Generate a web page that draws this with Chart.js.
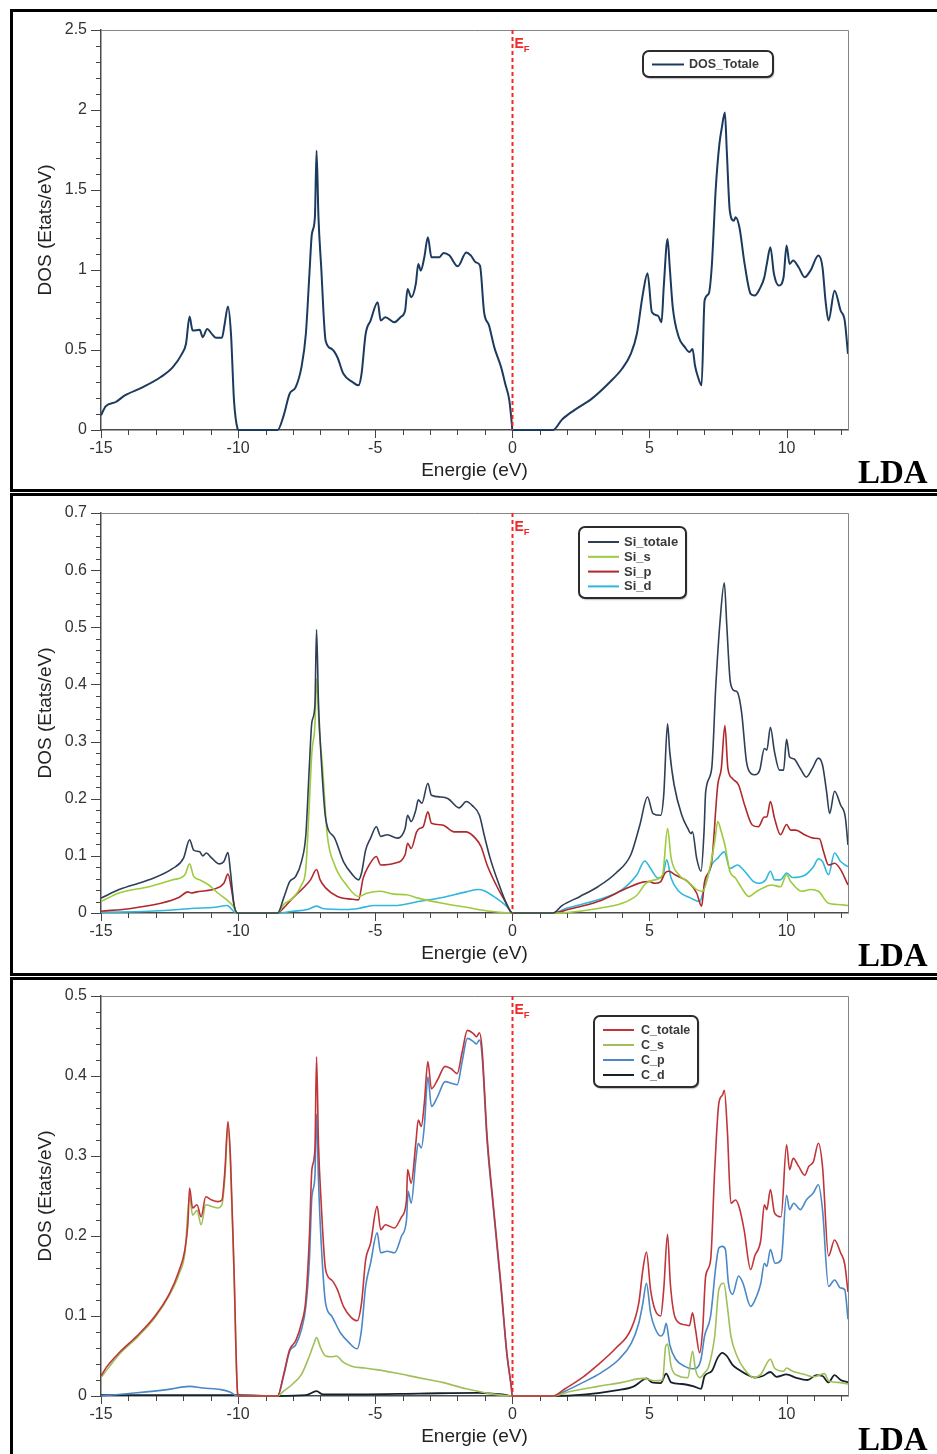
<!DOCTYPE html>
<html><head><meta charset="utf-8">
<script src="https://cdn.jsdelivr.net/npm/chart.js@4.4.1/dist/chart.umd.min.js"></script>
<style>
html,body{margin:0;padding:0;background:#fff;width:937px;height:1454px;overflow:hidden;}
.panel{position:absolute;left:10px;width:960px;height:483px;border:3px solid #000;box-sizing:border-box;}
.cv{position:absolute;left:0;}
</style></head><body>
<div class="panel" style="top:9px"></div>
<div class="panel" style="top:493px"></div>
<div class="panel" style="top:977px"></div>
<canvas id="c1" class="cv" width="937" height="490" style="top:0px"></canvas>
<canvas id="c2" class="cv" width="937" height="490" style="top:483px"></canvas>
<canvas id="c3" class="cv" width="937" height="490" style="top:966px"></canvas>
<script>
// ---------- tick labels ----------
const X_LABELS = [-15, -10, -5, 0, 5, 10];
const Y1_LABELS = [0, 0.5, 1, 1.5, 2, 2.5];
const Y2_LABELS = [0, 0.1, 0.2, 0.3, 0.4, 0.5, 0.6, 0.7];
const Y3_LABELS = [0, 0.1, 0.2, 0.3, 0.4, 0.5];

// ---------- panel 1 : DOS totale ----------
const E_DOS = [-15, -14.83, -14.46, -14.13, -13.47, -12.82, -12.38, -12.05, -11.9, -11.77, -11.66, -11.4, -11.29, -11.13, -10.96, -10.81, -10.59, -10.5, -10.37, -10.26, -10.15, -10.02, -9.98, -8.56, -8.34, -8.12, -7.9, -7.69, -7.53, -7.4, -7.31, -7.2, -7.14, -7.07, -6.97, -6.81, -6.59, -6.38, -6.16, -5.83, -5.61, -5.5, -5.35, -5.17, -4.91, -4.8, -4.63, -4.3, -4.08, -3.91, -3.82, -3.69, -3.52, -3.43, -3.34, -3.21, -3.08, -2.95, -2.66, -2.51, -2.29, -1.99, -1.68, -1.51, -1.33, -1.18, -1.03, -0.85, -0.66, -0.41, -0.26, -0.11, -0.02, 0, 1.48, 1.81, 2.25, 2.9, 3.56, 4.0, 4.32, 4.54, 4.76, 4.93, 5.09, 5.31, 5.44, 5.52, 5.66, 5.74, 5.85, 6.07, 6.29, 6.46, 6.57, 6.66, 6.77, 6.9, 7.01, 7.16, 7.27, 7.42, 7.55, 7.64, 7.75, 7.82, 7.93, 8.08, 8.14, 8.28, 8.47, 8.69, 8.84, 9.02, 9.19, 9.28, 9.41, 9.54, 9.72, 9.89, 10.0, 10.11, 10.24, 10.44, 10.66, 10.87, 11.16, 11.31, 11.42, 11.53, 11.75, 11.97, 12.12, 12.24];
const DOS_TOTALE = [0.092, 0.148, 0.175, 0.216, 0.268, 0.331, 0.393, 0.476, 0.539, 0.709, 0.622, 0.626, 0.58, 0.632, 0.601, 0.576, 0.576, 0.653, 0.772, 0.601, 0.185, 0.008, 0, 0, 0.09, 0.227, 0.268, 0.393, 0.6, 0.975, 1.225, 1.33, 1.745, 1.33, 1.017, 0.56, 0.507, 0.455, 0.351, 0.3, 0.279, 0.35, 0.6, 0.684, 0.799, 0.684, 0.705, 0.674, 0.705, 0.747, 0.882, 0.83, 0.913, 1.038, 0.996, 1.08, 1.204, 1.08, 1.08, 1.107, 1.09, 1.023, 1.11, 1.09, 1.048, 1.027, 0.736, 0.653, 0.518, 0.393, 0.289, 0.185, 0.04, 0, 0, 0.065, 0.123, 0.196, 0.3, 0.383, 0.476, 0.6, 0.851, 0.98, 0.736, 0.715, 0.674, 0.892, 1.194, 1.017, 0.767, 0.58, 0.518, 0.487, 0.507, 0.403, 0.331, 0.279, 0.809, 0.851, 1.017, 1.516, 1.787, 1.89, 1.984, 1.745, 1.37, 1.308, 1.329, 1.267, 1.038, 0.851, 0.84, 0.882, 0.955, 1.038, 1.142, 0.975, 0.903, 0.955, 1.153, 1.038, 1.059, 1.017, 0.955, 0.996, 1.09, 1.017, 0.809, 0.684, 0.871, 0.747, 0.684, 0.476];

// ---------- panel 2 : Si ----------
const E_SI_TOT = [-15, -14.34, -13.25, -12.38, -11.99, -11.77, -11.62, -11.4, -11.29, -11.16, -10.96, -10.68, -10.52, -10.37, -10.28, -10.15, -10.02, -8.56, -8.34, -8.12, -7.9, -7.69, -7.53, -7.4, -7.31, -7.2, -7.14, -7.07, -6.97, -6.81, -6.48, -6.16, -5.83, -5.61, -5.5, -5.35, -5.17, -4.96, -4.8, -4.56, -4.19, -3.91, -3.82, -3.69, -3.52, -3.43, -3.3, -3.08, -2.95, -2.6, -2.34, -1.94, -1.68, -1.46, -1.2, -1.03, -0.81, -0.48, -0.2, 0, 1.48, 1.81, 2.47, 3.12, 3.78, 4.32, 4.65, 4.93, 5.13, 5.41, 5.52, 5.66, 5.74, 5.9, 6.18, 6.4, 6.51, 6.57, 6.72, 6.88, 6.99, 7.05, 7.27, 7.42, 7.58, 7.73, 7.82, 7.95, 8.1, 8.21, 8.36, 8.54, 8.71, 8.84, 9.02, 9.19, 9.28, 9.41, 9.56, 9.74, 9.89, 10.0, 10.11, 10.26, 10.5, 10.72, 10.94, 11.16, 11.31, 11.46, 11.57, 11.75, 11.97, 12.14, 12.24];
const SI_TOTALE = [0.026, 0.041, 0.058, 0.078, 0.096, 0.128, 0.11, 0.107, 0.1, 0.105, 0.096, 0.086, 0.09, 0.106, 0.073, 0.015, 0, 0, 0.026, 0.055, 0.064, 0.09, 0.137, 0.259, 0.334, 0.363, 0.496, 0.369, 0.27, 0.166, 0.131, 0.09, 0.067, 0.058, 0.07, 0.11, 0.131, 0.151, 0.134, 0.137, 0.131, 0.148, 0.171, 0.16, 0.18, 0.198, 0.192, 0.227, 0.206, 0.203, 0.2, 0.184, 0.195, 0.188, 0.171, 0.137, 0.096, 0.049, 0.015, 0, 0, 0.013, 0.029, 0.046, 0.07, 0.102, 0.154, 0.203, 0.174, 0.171, 0.206, 0.331, 0.282, 0.224, 0.171, 0.148, 0.139, 0.142, 0.096, 0.073, 0.142, 0.212, 0.253, 0.398, 0.514, 0.578, 0.503, 0.404, 0.389, 0.386, 0.351, 0.264, 0.244, 0.242, 0.25, 0.288, 0.285, 0.325, 0.282, 0.25, 0.25, 0.304, 0.273, 0.27, 0.253, 0.238, 0.253, 0.271, 0.259, 0.212, 0.174, 0.213, 0.189, 0.168, 0.119];
const E_SI_S = [-15, -14.34, -13.25, -12.38, -11.94, -11.77, -11.62, -11.4, -11.07, -10.74, -10.41, -10.2, -10.02, -8.56, -8.34, -8.01, -7.69, -7.53, -7.4, -7.31, -7.2, -7.14, -7.05, -6.92, -6.75, -6.48, -6.05, -5.61, -5.28, -4.85, -4.3, -3.86, -3.43, -2.55, -1.68, -0.81, 0, 1.48, 2.03, 3.12, 4.0, 4.54, 4.87, 5.2, 5.48, 5.66, 5.79, 6.07, 6.4, 6.72, 6.94, 7.16, 7.38, 7.49, 7.62, 7.75, 7.93, 8.14, 8.36, 8.62, 8.91, 9.24, 9.45, 9.78, 10.0, 10.15, 10.55, 10.87, 11.16, 11.53, 11.86, 12.24];
const SI_S = [0.02, 0.035, 0.046, 0.058, 0.067, 0.086, 0.064, 0.058, 0.049, 0.035, 0.023, 0.013, 0, 0, 0.015, 0.026, 0.049, 0.078, 0.195, 0.282, 0.328, 0.41, 0.328, 0.253, 0.137, 0.084, 0.049, 0.029, 0.035, 0.038, 0.033, 0.032, 0.026, 0.017, 0.01, 0.003, 0, 0, 0.001, 0.008, 0.017, 0.031, 0.052, 0.058, 0.067, 0.148, 0.096, 0.067, 0.055, 0.041, 0.038, 0.07, 0.125, 0.16, 0.142, 0.119, 0.073, 0.061, 0.044, 0.029, 0.038, 0.046, 0.049, 0.046, 0.067, 0.055, 0.038, 0.041, 0.038, 0.017, 0.015, 0.013];
const E_SI_P = [-15, -13.91, -12.82, -12.16, -11.83, -11.72, -11.5, -11.18, -10.85, -10.52, -10.37, -10.24, -10.13, -10.02, -8.56, -8.34, -8.01, -7.58, -7.36, -7.14, -7.01, -6.81, -6.38, -5.83, -5.61, -5.44, -5.22, -4.96, -4.8, -4.3, -3.91, -3.82, -3.69, -3.49, -3.38, -3.25, -3.08, -2.95, -2.55, -2.12, -1.68, -1.35, -1.14, -0.92, -0.59, -0.26, 0, 1.48, 2.03, 3.12, 4.21, 4.76, 4.98, 5.2, 5.41, 5.57, 5.7, 5.96, 6.4, 6.72, 6.9, 7.01, 7.27, 7.49, 7.62, 7.75, 7.86, 8.03, 8.25, 8.47, 8.75, 8.97, 9.19, 9.28, 9.41, 9.56, 9.78, 10.0, 10.15, 10.33, 10.66, 10.98, 11.2, 11.35, 11.53, 11.75, 11.97, 12.24];
const SI_P = [0.003, 0.008, 0.017, 0.027, 0.037, 0.035, 0.037, 0.039, 0.042, 0.052, 0.068, 0.041, 0.009, 0, 0, 0.009, 0.026, 0.046, 0.058, 0.076, 0.058, 0.044, 0.029, 0.024, 0.023, 0.061, 0.084, 0.099, 0.084, 0.087, 0.102, 0.122, 0.113, 0.142, 0.148, 0.151, 0.177, 0.157, 0.154, 0.142, 0.142, 0.131, 0.116, 0.084, 0.049, 0.02, 0, 0, 0.006, 0.02, 0.044, 0.054, 0.055, 0.052, 0.055, 0.07, 0.073, 0.066, 0.055, 0.035, 0.012, 0.055, 0.09, 0.224, 0.253, 0.328, 0.253, 0.235, 0.224, 0.189, 0.154, 0.151, 0.168, 0.168, 0.195, 0.166, 0.137, 0.155, 0.145, 0.145, 0.137, 0.131, 0.13, 0.107, 0.084, 0.087, 0.076, 0.049];
const E_SI_D = [-15, -13.25, -12.16, -11.72, -10.85, -10.41, -10.3, -10.08, -8.56, -8.01, -7.47, -7.14, -6.92, -6.05, -5.61, -5.07, -4.3, -3.43, -2.55, -1.68, -1.24, -1.03, -0.59, -0.15, 0, 1.48, 2.03, 3.12, 4.0, 4.54, 4.83, 5.04, 5.31, 5.48, 5.63, 5.79, 6.07, 6.51, 6.83, 7.01, 7.27, 7.49, 7.73, 7.93, 8.21, 8.47, 8.8, 9.02, 9.24, 9.41, 9.56, 9.78, 10.0, 10.22, 10.66, 10.98, 11.16, 11.31, 11.53, 11.75, 11.97, 12.24];
const SI_D = [0.001, 0.003, 0.006, 0.008, 0.01, 0.013, 0.01, 0, 0, 0.003, 0.006, 0.012, 0.008, 0.006, 0.008, 0.013, 0.013, 0.02, 0.027, 0.037, 0.041, 0.039, 0.026, 0.009, 0, 0, 0.009, 0.023, 0.041, 0.067, 0.091, 0.078, 0.061, 0.064, 0.093, 0.061, 0.038, 0.026, 0.02, 0.046, 0.084, 0.096, 0.107, 0.078, 0.084, 0.073, 0.055, 0.052, 0.058, 0.073, 0.058, 0.058, 0.07, 0.062, 0.066, 0.081, 0.095, 0.09, 0.067, 0.105, 0.09, 0.081];

// ---------- panel 3 : C ----------
const E_C_TOT = [-15, -14.78, -14.34, -13.69, -13.03, -12.49, -12.16, -11.94, -11.83, -11.77, -11.66, -11.5, -11.35, -11.18, -10.96, -10.74, -10.59, -10.48, -10.37, -10.28, -10.15, -10.02, -9.98, -8.56, -8.34, -8.12, -7.9, -7.69, -7.53, -7.4, -7.31, -7.2, -7.14, -7.07, -6.97, -6.81, -6.59, -6.38, -6.16, -5.87, -5.66, -5.5, -5.35, -5.17, -4.93, -4.8, -4.63, -4.3, -4.04, -3.86, -3.82, -3.69, -3.52, -3.43, -3.32, -3.21, -3.08, -2.95, -2.73, -2.45, -2.23, -2.01, -1.83, -1.64, -1.42, -1.31, -1.2, -1.11, -0.92, -0.7, -0.41, -0.2, -0.04, 0, 1.48, 1.92, 2.47, 3.12, 3.78, 4.32, 4.61, 4.76, 4.89, 5.04, 5.2, 5.41, 5.52, 5.66, 5.76, 5.96, 6.29, 6.46, 6.57, 6.68, 6.83, 6.94, 7.05, 7.23, 7.38, 7.53, 7.66, 7.73, 7.84, 7.97, 8.14, 8.28, 8.45, 8.69, 8.84, 9.06, 9.19, 9.28, 9.41, 9.56, 9.8, 10.0, 10.11, 10.24, 10.44, 10.66, 10.81, 10.98, 11.16, 11.31, 11.53, 11.75, 11.97, 12.12, 12.24];
const C_TOTALE = [0.025, 0.037, 0.054, 0.075, 0.1, 0.129, 0.156, 0.183, 0.216, 0.26, 0.235, 0.239, 0.224, 0.249, 0.245, 0.243, 0.245, 0.283, 0.343, 0.299, 0.158, 0.004, 0, 0, 0.027, 0.058, 0.069, 0.091, 0.121, 0.2, 0.283, 0.308, 0.424, 0.316, 0.241, 0.158, 0.145, 0.133, 0.112, 0.098, 0.094, 0.116, 0.17, 0.191, 0.237, 0.208, 0.214, 0.21, 0.224, 0.245, 0.283, 0.266, 0.316, 0.345, 0.337, 0.366, 0.418, 0.384, 0.395, 0.412, 0.409, 0.403, 0.43, 0.457, 0.453, 0.449, 0.454, 0.436, 0.324, 0.241, 0.137, 0.054, 0.012, 0, 0, 0.009, 0.021, 0.039, 0.06, 0.083, 0.116, 0.158, 0.18, 0.133, 0.108, 0.1, 0.133, 0.202, 0.141, 0.096, 0.089, 0.088, 0.104, 0.083, 0.054, 0.083, 0.15, 0.17, 0.283, 0.366, 0.376, 0.382, 0.332, 0.241, 0.245, 0.235, 0.208, 0.158, 0.175, 0.195, 0.239, 0.233, 0.258, 0.229, 0.224, 0.314, 0.283, 0.297, 0.287, 0.276, 0.287, 0.293, 0.316, 0.287, 0.175, 0.195, 0.179, 0.165, 0.13];
const E_C_S = [-15, -14.34, -13.69, -13.03, -12.49, -12.16, -11.94, -11.77, -11.66, -11.5, -11.35, -11.18, -10.96, -10.74, -10.59, -10.48, -10.37, -10.28, -10.15, -10.02, -9.98, -8.56, -8.34, -8.01, -7.69, -7.4, -7.25, -7.14, -6.99, -6.81, -6.59, -6.42, -6.16, -5.83, -5.39, -4.96, -4.3, -3.43, -2.55, -1.68, -0.81, 0, 1.48, 2.03, 3.12, 4.0, 4.76, 5.2, 5.48, 5.59, 5.66, 5.79, 6.07, 6.4, 6.57, 6.68, 6.83, 7.01, 7.16, 7.38, 7.53, 7.71, 7.84, 7.97, 8.19, 8.47, 8.8, 9.06, 9.41, 9.56, 9.89, 10.0, 10.22, 10.66, 10.98, 11.38, 11.53, 11.86, 12.24];
const C_S = [0.023, 0.052, 0.073, 0.098, 0.127, 0.152, 0.179, 0.249, 0.226, 0.232, 0.214, 0.239, 0.237, 0.235, 0.239, 0.274, 0.337, 0.291, 0.154, 0.003, 0, 0, 0.006, 0.015, 0.027, 0.05, 0.064, 0.073, 0.06, 0.05, 0.049, 0.05, 0.042, 0.037, 0.035, 0.033, 0.029, 0.023, 0.017, 0.009, 0.003, 0, 0, 0.005, 0.012, 0.017, 0.022, 0.019, 0.02, 0.062, 0.065, 0.037, 0.025, 0.023, 0.056, 0.033, 0.023, 0.029, 0.037, 0.075, 0.133, 0.141, 0.112, 0.075, 0.05, 0.033, 0.023, 0.027, 0.046, 0.035, 0.031, 0.035, 0.031, 0.027, 0.024, 0.028, 0.019, 0.017, 0.015];
const E_C_P = [-15, -13.69, -12.6, -11.77, -11.29, -10.63, -10.3, -10.02, -8.56, -8.34, -8.12, -7.9, -7.69, -7.53, -7.4, -7.31, -7.2, -7.14, -7.07, -6.97, -6.81, -6.59, -6.27, -5.94, -5.66, -5.5, -5.35, -5.17, -4.93, -4.8, -4.56, -4.3, -4.04, -3.86, -3.8, -3.69, -3.52, -3.43, -3.32, -3.21, -3.08, -2.95, -2.73, -2.45, -2.23, -2.01, -1.83, -1.64, -1.42, -1.31, -1.2, -1.11, -0.92, -0.7, -0.41, -0.2, -0.04, 0, 1.48, 1.92, 2.58, 3.23, 3.89, 4.34, 4.61, 4.76, 4.89, 5.04, 5.2, 5.41, 5.52, 5.61, 5.74, 5.96, 6.29, 6.57, 6.72, 6.88, 7.01, 7.23, 7.42, 7.53, 7.66, 7.77, 7.88, 8.03, 8.25, 8.41, 8.69, 8.91, 9.06, 9.19, 9.28, 9.41, 9.58, 9.8, 10.0, 10.11, 10.26, 10.5, 10.72, 10.98, 11.16, 11.31, 11.53, 11.75, 11.97, 12.12, 12.24];
const C_P = [0, 0.004, 0.008, 0.012, 0.01, 0.008, 0.005, 0, 0, 0.025, 0.056, 0.064, 0.083, 0.112, 0.17, 0.249, 0.274, 0.352, 0.27, 0.191, 0.116, 0.1, 0.079, 0.066, 0.059, 0.083, 0.137, 0.166, 0.204, 0.179, 0.181, 0.179, 0.2, 0.22, 0.256, 0.241, 0.295, 0.316, 0.31, 0.337, 0.399, 0.362, 0.374, 0.393, 0.391, 0.389, 0.418, 0.447, 0.443, 0.44, 0.445, 0.428, 0.318, 0.237, 0.133, 0.052, 0.012, 0, 0, 0.006, 0.017, 0.029, 0.046, 0.066, 0.091, 0.116, 0.141, 0.104, 0.085, 0.075, 0.079, 0.091, 0.064, 0.046, 0.037, 0.034, 0.035, 0.046, 0.075, 0.1, 0.162, 0.185, 0.187, 0.183, 0.141, 0.127, 0.15, 0.141, 0.112, 0.125, 0.141, 0.166, 0.162, 0.183, 0.166, 0.17, 0.251, 0.233, 0.241, 0.233, 0.245, 0.254, 0.264, 0.233, 0.137, 0.145, 0.135, 0.133, 0.096];
const E_C_D = [-15, -10.02, -8.56, -7.53, -7.14, -6.92, -5.61, -3.43, -1.24, -0.37, 0, 1.48, 2.69, 3.78, 4.43, 4.76, 4.89, 5.09, 5.41, 5.61, 5.79, 6.18, 6.62, 6.88, 7.01, 7.27, 7.49, 7.66, 7.82, 8.03, 8.25, 8.54, 8.84, 9.13, 9.41, 9.63, 10.0, 10.33, 10.76, 11.09, 11.31, 11.53, 11.75, 11.97, 12.24];
const C_D = [0.001, 0.001, 0, 0.001, 0.006, 0.002, 0.002, 0.003, 0.004, 0.002, 0, 0, 0.002, 0.007, 0.012, 0.02, 0.022, 0.017, 0.016, 0.028, 0.017, 0.015, 0.012, 0.009, 0.025, 0.031, 0.048, 0.054, 0.05, 0.039, 0.033, 0.027, 0.023, 0.025, 0.03, 0.024, 0.027, 0.023, 0.02, 0.026, 0.025, 0.017, 0.026, 0.02, 0.017];

// ---------- helpers ----------
const FONT = '"Liberation Sans", Arial, sans-serif';
Chart.defaults.font.family = FONT;
function pts(xs, ys) { const n = Math.min(xs.length, ys.length); const o = []; for (let i = 0; i < n; i++) o.push({x: xs[i], y: ys[i]}); return o; }
function makeTicks(min, max, step) { const out = []; const n = Math.floor((max - min) / step + 1e-6); for (let k = 0; k <= n; k++) out.push(Math.round((min + k * step) * 1000) / 1000); return out; }
function isLabel(v, labels) { return labels.some(l => Math.abs(l - v) < 1e-6); }
function ds(label, xs, ys, color, width) {
  return {label, data: pts(xs, ys), borderColor: color, backgroundColor: color, borderWidth: width,
          pointRadius: 0, pointHoverRadius: 0, fill: false, cubicInterpolationMode: 'monotone',
          clip: {left: 0, top: 0, right: 0, bottom: 2}};
}

const decor = {
  id: 'decor',
  beforeDatasetsDraw(chart) {
    const o = chart.options.plugins.decor; const ctx = chart.ctx; const a = chart.chartArea;
    const xs = chart.scales.x, ys = chart.scales.y;
    ctx.save();
    ctx.strokeStyle = '#858585'; ctx.lineWidth = 1;
    ctx.beginPath();
    ctx.moveTo(a.left, Math.round(a.top) + 0.5); ctx.lineTo(Math.round(a.right) + 0.5, Math.round(a.top) + 0.5);
    ctx.lineTo(Math.round(a.right) + 0.5, a.bottom); ctx.stroke();
    ctx.strokeStyle = '#444'; ctx.lineWidth = 1;
    xs.ticks.forEach(t => {
      const L = isLabel(t.value, o.xLabels) ? 8 : 5; const px = Math.round(xs.getPixelForValue(t.value)) + 0.5;
      ctx.beginPath(); ctx.moveTo(px, a.bottom); ctx.lineTo(px, a.bottom + L); ctx.stroke();
    });
    ys.ticks.forEach(t => {
      const L = isLabel(t.value, o.yLabels) ? 10 : 5; const py = Math.round(ys.getPixelForValue(t.value)) + 0.5;
      ctx.beginPath(); ctx.moveTo(a.left - L, py); ctx.lineTo(a.left, py); ctx.stroke();
    });
    ctx.restore();
  },
  afterDatasetsDraw(chart) {
    const o = chart.options.plugins.decor; const ctx = chart.ctx; const a = chart.chartArea;
    const xs = chart.scales.x;
    ctx.save();
    // Fermi level
    const x0 = Math.round(xs.getPixelForValue(0)) + 0.5;
    ctx.strokeStyle = '#f02828'; ctx.lineWidth = 2; ctx.setLineDash([4, 3]);
    ctx.beginPath(); ctx.moveTo(x0, a.top); ctx.lineTo(x0, a.bottom); ctx.stroke();
    ctx.setLineDash([]);
    ctx.fillStyle = '#f02828'; ctx.textBaseline = 'alphabetic'; ctx.textAlign = 'left';
    ctx.font = 'bold 14px ' + FONT;
    ctx.fillText('E', x0 + 2, a.top + 18);
    const w = ctx.measureText('E').width;
    ctx.font = 'bold 9.5px ' + FONT;
    ctx.fillText('F', x0 + 2 + w, a.top + 22);
    // legend
    const L = o.legend;
    ctx.save();
    ctx.shadowColor = 'rgba(0,0,0,0.45)'; ctx.shadowOffsetX = 1; ctx.shadowOffsetY = 1.5; ctx.shadowBlur = 1.5;
    ctx.beginPath(); ctx.roundRect(L.x, L.y, L.w, L.h, 6);
    ctx.fillStyle = '#fff'; ctx.fill();
    ctx.restore();
    ctx.beginPath(); ctx.roundRect(L.x, L.y, L.w, L.h, 6);
    ctx.strokeStyle = '#2b2b2b'; ctx.lineWidth = 2; ctx.stroke();
    ctx.font = 'bold ' + L.font + 'px ' + FONT; ctx.textBaseline = 'middle';
    chart.data.datasets.forEach((d, i) => {
      const yy = L.y + L.first + i * L.step;
      ctx.strokeStyle = d.borderColor; ctx.lineWidth = 2;
      ctx.beginPath(); ctx.moveTo(L.x1, yy); ctx.lineTo(L.x2, yy); ctx.stroke();
      ctx.fillStyle = '#3a3a3a'; ctx.fillText(d.label, L.tx, yy + 0.5);
    });
    // LDA tag
    ctx.fillStyle = '#000'; ctx.textBaseline = 'alphabetic';
    ctx.font = 'bold 33px "Liberation Serif", "Times New Roman", serif';
    ctx.fillText('LDA', 858, o.ldaY);
    ctx.restore();
  }
};

function makeChart(id, datasets, yMax, yStep, yLabels, legend, ldaY) {
  return new Chart(document.getElementById(id), {
    type: 'line',
    data: {datasets},
    plugins: [decor],
    options: {
      responsive: false, animation: false, events: [],
      layout: {padding: {top: 30, right: 89, bottom: 0, left: 0}},
      plugins: {legend: {display: false}, tooltip: {enabled: false},
        decor: {xLabels: X_LABELS, yLabels: yLabels, legend, ldaY}},
      scales: {
        x: {type: 'linear', min: -15, max: 12.24,
          afterBuildTicks: s => { s.ticks = makeTicks(-15, 12, 1).map(v => ({value: v})); },
          afterFit: s => { s.height = 60; },
          border: {display: true, color: '#4a4a4a', width: 1.5},
          grid: {drawOnChartArea: false, drawTicks: true, tickLength: 8, tickColor: 'rgba(0,0,0,0)'},
          ticks: {autoSkip: false, maxRotation: 0, padding: 1, color: '#333', font: {size: 16, family: FONT},
            callback: v => isLabel(v, X_LABELS) ? String(Math.round(v)) : ''},
          title: {display: true, text: 'Energie (eV)', color: '#222', font: {size: 19, family: FONT},
            padding: {top: 0, bottom: 8}}
        },
        y: {type: 'linear', min: 0, max: yMax,
          afterBuildTicks: s => { s.ticks = makeTicks(0, yMax, yStep).map(v => ({value: v})); },
          afterFit: s => { s.width = 101; },
          border: {display: true, color: '#4a4a4a', width: 1.5},
          grid: {drawOnChartArea: false, drawTicks: true, tickLength: 10, tickColor: 'rgba(0,0,0,0)'},
          ticks: {autoSkip: false, padding: 4, color: '#333', font: {size: 16, family: FONT},
            callback: v => isLabel(v, yLabels) ? String(Math.round(v * 10) / 10) : ''},
          title: {display: true, text: 'DOS (Etats/eV)', color: '#222', font: {size: 19, family: FONT},
            padding: {top: 34, bottom: 0}}
        }
      }
    }
  });
}

makeChart('c1', [ds('DOS_Totale', E_DOS, DOS_TOTALE, '#1c3a5e', 2)],
  2.5, 0.1, Y1_LABELS,
  {x: 643, y: 51, w: 130, h: 26, first: 13.5, step: 15, x1: 652, x2: 684, tx: 689, font: 12.5}, 483);

makeChart('c2', [
    ds('Si_totale', E_SI_TOT, SI_TOTALE, '#2e3f57', 1.6),
    ds('Si_s', E_SI_S, SI_S, '#9ccb3b', 1.6),
    ds('Si_p', E_SI_P, SI_P, '#b0282c', 1.6),
    ds('Si_d', E_SI_D, SI_D, '#2fb8dc', 1.6)],
  0.7, 0.02, Y2_LABELS,
  {x: 579, y: 44, w: 107, h: 71, first: 15, step: 14.8, x1: 588, x2: 619, tx: 624, font: 13}, 483);

makeChart('c3', [
    ds('C_totale', E_C_TOT, C_TOTALE, '#c0353a', 1.6),
    ds('C_s', E_C_S, C_S, '#a0bf5a', 1.6),
    ds('C_p', E_C_P, C_P, '#4a88c6', 1.6),
    ds('C_d', E_C_D, C_D, '#17212b', 1.8)],
  0.5, 0.02, Y3_LABELS,
  {x: 594, y: 50, w: 104, h: 71, first: 14, step: 15, x1: 603, x2: 634, tx: 641, font: 12.5}, 484);
</script>
</body></html>
